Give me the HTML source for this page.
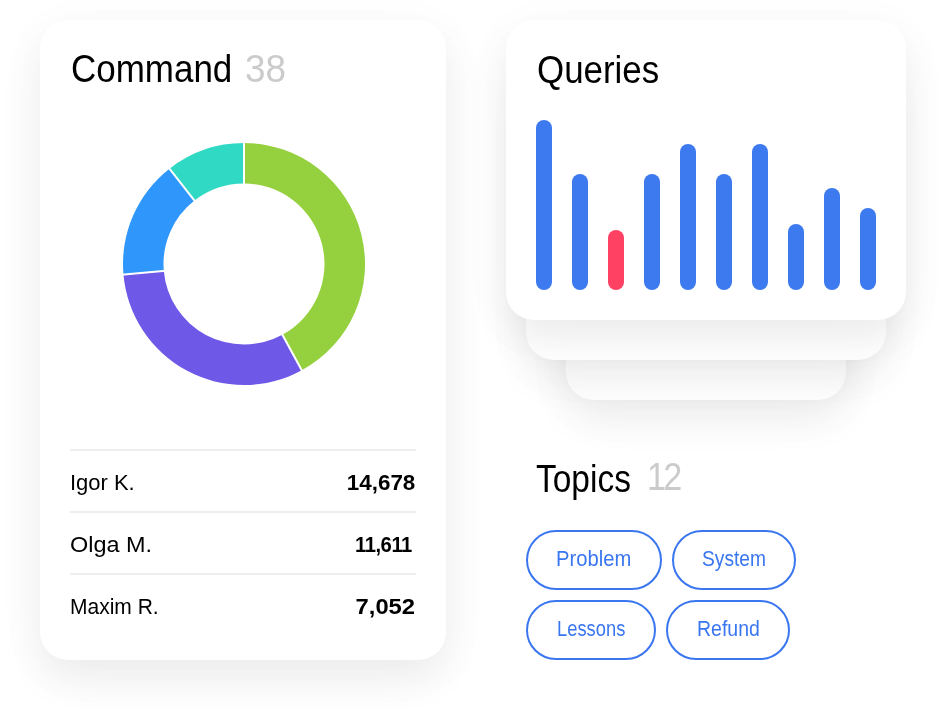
<!DOCTYPE html>
<html lang="en">
<head>
<meta charset="utf-8">
<title>Dashboard</title>
<style>
*{margin:0;padding:0;box-sizing:border-box}
html,body{width:946px;height:720px;background:#fff;overflow:hidden}
body{position:relative;font-family:"Liberation Sans",sans-serif;color:#000}
.card{position:absolute;background:#fff;border-radius:28px;box-shadow:0 20px 40px rgba(0,0,0,.06),0 10px 60px rgba(0,0,0,.03)}
.t{position:absolute;white-space:nowrap;line-height:1;transform-origin:0 50%;display:block}
.h{font-size:38px;color:#000}
.g{color:#cbcbcb}
#c1{left:40px;top:20px;width:406px;height:640px}
#q3{left:566px;top:100px;width:280px;height:300px}
#q2{left:526px;top:60px;width:360px;height:300px}
#q1{left:506px;top:20px;width:400px;height:300px}
.sep{position:absolute;left:70px;width:346px;height:2px;background:#eeeeee}
.n{font-size:21.5px}
.v{font-size:22px;font-weight:bold;transform-origin:100% 50%;text-align:right}
.bar{position:absolute;width:16px;border-radius:8px;background:#3d7af0}
.pill{position:absolute;height:60px;border:2px solid #3a76f0;border-radius:30px;background:#fff}
.p{font-size:22px;color:#3a76f0}
</style>
</head>
<body>
<div class="card" id="c1"></div>
<div class="card" id="q3"></div>
<div class="card" id="q2"></div>
<div class="card" id="q1"></div>

<span class="t h" id="tCommand" style="left:70.5px;top:50.4px;transform:scaleX(.92)">Command</span>
<span class="t h g" id="t38" style="left:245.2px;top:50.3px;transform:scaleX(.97)">38</span>

<svg style="position:absolute;left:114px;top:134px" width="260" height="260" viewBox="-130 -130 260 260">
  <path d="M0.00 -121.00A121.0 121.0 0 0 1 57.74 106.34L38.41 70.74A80.5 80.5 0 0 0 0.00 -80.50Z" fill="#95d03e"/>
  <path d="M57.74 106.34A121.0 121.0 0 0 1 -120.54 10.55L-80.19 7.02A80.5 80.5 0 0 0 38.41 70.74Z" fill="#6e58e8"/>
  <path d="M-120.54 10.55A121.0 121.0 0 0 1 -74.50 -95.35L-49.56 -63.43A80.5 80.5 0 0 0 -80.19 7.02Z" fill="#2f97fc"/>
  <path d="M-74.50 -95.35A121.0 121.0 0 0 1 -0.00 -121.00L-0.00 -80.50A80.5 80.5 0 0 0 -49.56 -63.43Z" fill="#2fd9c3"/>
  <path d="M0.00 -78.50L0.00 -123.00" stroke="#fff" stroke-width="2" fill="none"/>
  <path d="M37.46 68.99L58.69 108.09" stroke="#fff" stroke-width="2" fill="none"/>
  <path d="M-78.20 6.84L-122.53 10.72" stroke="#fff" stroke-width="2" fill="none"/>
  <path d="M-48.33 -61.86L-75.73 -96.93" stroke="#fff" stroke-width="2" fill="none"/>
</svg>

<div class="sep" style="top:449px"></div>
<div class="sep" style="top:511px"></div>
<div class="sep" style="top:573px"></div>
<span class="t n" id="n1" style="left:69.5px;top:473px;transform:scaleX(1.022)">Igor K.</span>
<span class="t n" id="n2" style="left:69.5px;top:535px;transform:scaleX(1.09)">Olga M.</span>
<span class="t n" id="n3" style="left:70px;top:597px;transform:scaleX(.977)">Maxim R.</span>
<span class="t v" id="v1" style="right:531px;top:471.5px;transform:scaleX(1.018)">14,678</span>
<span class="t v" id="v2" style="right:534.5px;top:533.5px;letter-spacing:-.5px;transform:scaleX(.92)">11,611</span>
<span class="t v" id="v3" style="right:530.7px;top:595.5px;transform:scaleX(1.08)">7,052</span>

<span class="t h" id="tQueries" style="left:536.6px;top:50.7px;transform:scaleX(.918)">Queries</span>

<div class="bar" style="left:536px;top:120px;height:170px"></div>
<div class="bar" style="left:572px;top:174px;height:116px"></div>
<div class="bar" style="left:608px;top:230px;height:60px;background:#ff4163"></div>
<div class="bar" style="left:644px;top:174px;height:116px"></div>
<div class="bar" style="left:680px;top:144px;height:146px"></div>
<div class="bar" style="left:716px;top:174px;height:116px"></div>
<div class="bar" style="left:752px;top:144px;height:146px"></div>
<div class="bar" style="left:788px;top:224px;height:66px"></div>
<div class="bar" style="left:824px;top:188px;height:102px"></div>
<div class="bar" style="left:860px;top:208px;height:82px"></div>

<span class="t h" id="tTopics" style="left:536px;top:460.4px;transform:scaleX(.881)">Topics</span>
<span class="t h g" id="t12" style="left:647px;top:458px;letter-spacing:-3px;transform:scaleX(.9)">12</span>

<div class="pill" style="left:526px;top:530px;width:136px"></div>
<div class="pill" style="left:672px;top:530px;width:124px"></div>
<div class="pill" style="left:526px;top:600px;width:130px"></div>
<div class="pill" style="left:666px;top:600px;width:124px"></div>
<span class="t p" id="p1" style="left:556.4px;top:548.1px;transform:scaleX(.919)">Problem</span>
<span class="t p" id="p2" style="left:702.1px;top:548.1px;transform:scaleX(.872)">System</span>
<span class="t p" id="p3" style="left:556.5px;top:618.1px;transform:scaleX(.834)">Lessons</span>
<span class="t p" id="p4" style="left:696.5px;top:618.1px;transform:scaleX(.885)">Refund</span>
</body>
</html>
